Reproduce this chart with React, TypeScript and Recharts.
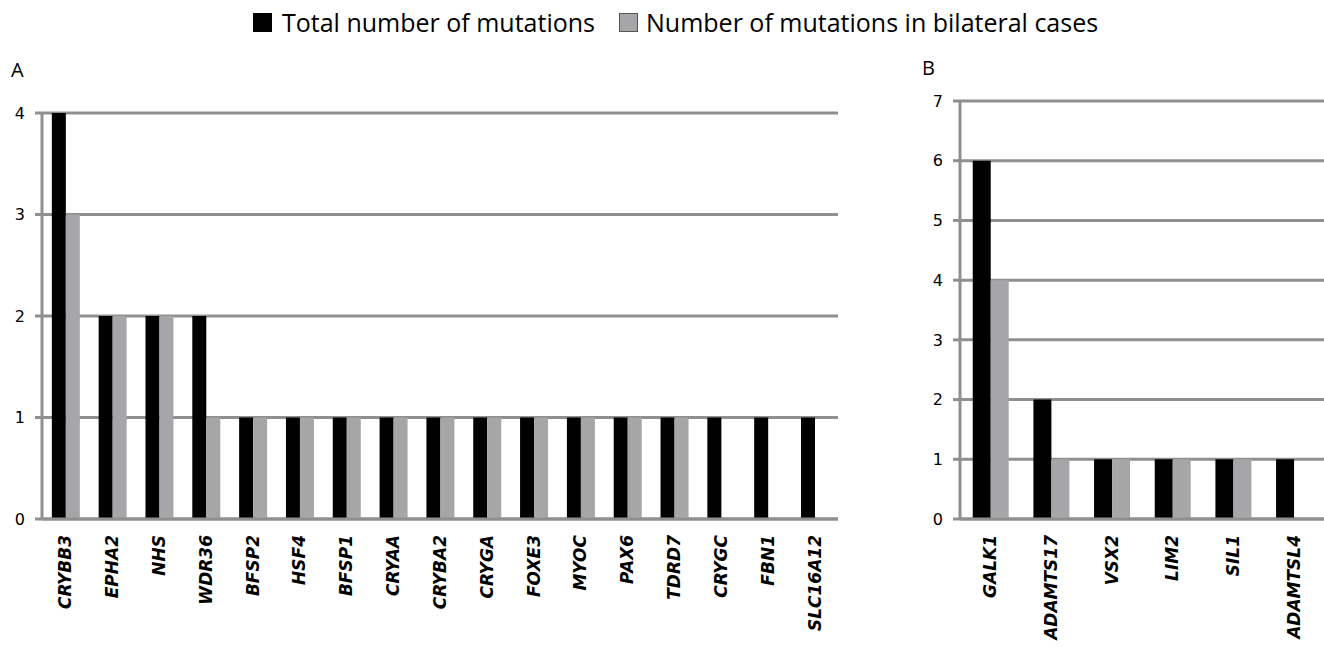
import React from 'react';
import { BarChart, Bar, XAxis, YAxis, CartesianGrid } from 'recharts';

// panel A: cataract genes
const genesA = [
  'CRYBB3', 'EPHA2', 'NHS', 'WDR36', 'BFSP2', 'HSF4', 'BFSP1', 'CRYAA', 'CRYBA2',
  'CRYGA', 'FOXE3', 'MYOC', 'PAX6', 'TDRD7', 'CRYGC', 'FBN1', 'SLC16A12',
];
const totalA = [4, 2, 2, 2, 1, 1, 1, 1, 1, 1, 1, 1, 1, 1, 1, 1, 1];
const bilateralA = [3, 2, 2, 1, 1, 1, 1, 1, 1, 1, 1, 1, 1, 1, 0, 0, 0];
const ticksA = [0, 1, 2, 3, 4];

// panel B
const genesB = ['GALK1', 'ADAMTS17', 'VSX2', 'LIM2', 'SIL1', 'ADAMTSL4'];
const totalB = [6, 2, 1, 1, 1, 1];
const bilateralB = [4, 1, 1, 1, 1, 0];
const ticksB = [0, 1, 2, 3, 4, 5, 6, 7];

const legendLabels = ['Total number of mutations', 'Number of mutations in bilateral cases'];

const BLACK = '#000000';
const GREY = '#a6a6a8';
const GRID = '#8f8f8f';

const dataA = genesA.map((gene, i) => ({ gene, total: totalA[i], bilateral: bilateralA[i] }));
const dataB = genesB.map((gene, i) => ({ gene, total: totalB[i], bilateral: bilateralB[i] }));

function GeneTick({ x, y, payload }: any) {
  return (
    <g transform={`translate(${x},${y + 8})`}>
      <text
        transform="rotate(-90)"
        textAnchor="end"
        dy="0.35em"
        fontFamily="DejaVu Sans"
        fontSize={17}
        fontWeight="bold"
        fontStyle="italic"
        fill="#000"
      >
        {payload.value}
      </text>
    </g>
  );
}

const yTick = { fontFamily: 'DejaVu Sans', fontSize: 16, fill: '#000' };

function Panel({ data, ticks, width, yWidth, top }: any) {
  return (
    <BarChart
      width={width}
      height={647}
      data={data}
      margin={{ top, right: 0, left: 0, bottom: 0 }}
      barCategoryGap="21%"
      barGap={0}
    >
      <CartesianGrid vertical={false} stroke={GRID} strokeWidth={3} />
      <XAxis
        dataKey="gene"
        height={128}
        interval={0}
        axisLine={{ stroke: GRID, strokeWidth: 3 }}
        tickLine={false}
        tick={<GeneTick />}
      />
      <YAxis
        width={yWidth}
        domain={[0, ticks[ticks.length - 1]]}
        ticks={ticks}
        axisLine={{ stroke: GRID, strokeWidth: 3 }}
        tickLine={{ stroke: GRID, strokeWidth: 3 }}
        tickSize={7}
        tickMargin={10}
        tick={yTick}
      />
      <Bar dataKey="total" fill={BLACK} isAnimationActive={false} />
      <Bar dataKey="bilateral" fill={GREY} isAnimationActive={false} />
    </BarChart>
  );
}

export default function App() {
  return (
    <div style={{ position: 'absolute', left: 0, top: 0, width: 1324, height: 647, background: '#fff' }}>
      <div
        style={{
          position: 'absolute',
          left: 253,
          top: 5,
          display: 'flex',
          alignItems: 'center',
          fontFamily: 'Open Sans',
          fontSize: 25,
          color: '#000',
          whiteSpace: 'nowrap',
        }}
      >
        <span style={{ width: 19, height: 19, background: BLACK, marginRight: 10 }} />
        <span>{legendLabels[0]}</span>
        <span style={{ width: 17, height: 17, background: GREY, border: '1px solid #555', marginLeft: 24, marginRight: 8 }} />
        <span>{legendLabels[1]}</span>
      </div>
      <div style={{ position: 'absolute', left: 11, top: 56, fontFamily: 'Open Sans', fontSize: 20 }}>A</div>
      <div style={{ position: 'absolute', left: 922, top: 54, fontFamily: 'Open Sans', fontSize: 20 }}>B</div>
      <div style={{ position: 'absolute', left: 0, top: 0 }}>
        <Panel data={dataA} ticks={ticksA} width={838} yWidth={42} top={113} />
      </div>
      <div style={{ position: 'absolute', left: 880, top: 0 }}>
        <Panel data={dataB} ticks={ticksB} width={444} yWidth={80} top={101} />
      </div>
    </div>
  );
}
